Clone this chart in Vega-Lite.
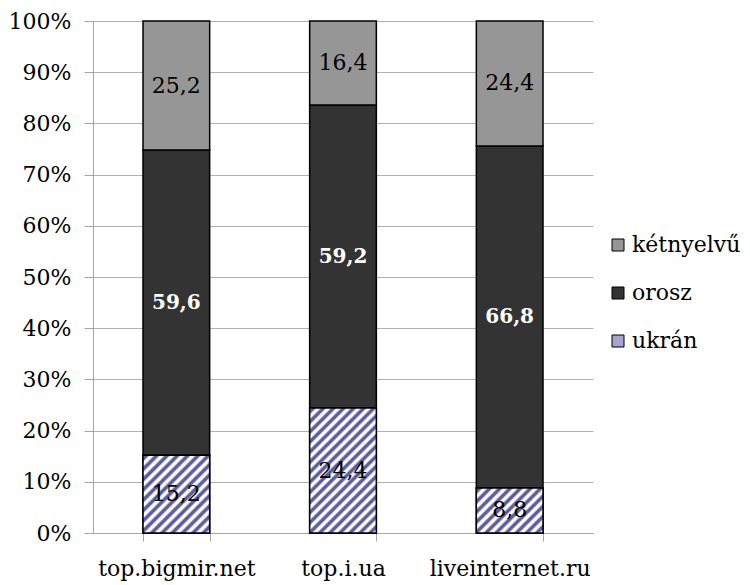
{
  "$schema": "https://vega.github.io/schema/vega-lite/v6.json",
  "width": 500,
  "height": 512,
  "autosize": {"type": "none"},
  "padding": {"left": 93, "top": 21, "right": 157, "bottom": 52},
  "background": "white",
  "config": {
    "view": {"stroke": null},
    "locale": {"number": {"decimal": ",", "thousands": " ", "grouping": [3], "currency": ["", ""]}}
  },
  "data": {
    "values": [
      {"site": "top.bigmir.net", "lang": "ukrán", "value": 15.2},
      {"site": "top.bigmir.net", "lang": "orosz", "value": 59.6},
      {"site": "top.bigmir.net", "lang": "kétnyelvű", "value": 25.2},
      {"site": "top.i.ua", "lang": "ukrán", "value": 24.4},
      {"site": "top.i.ua", "lang": "orosz", "value": 59.2},
      {"site": "top.i.ua", "lang": "kétnyelvű", "value": 16.4},
      {"site": "liveinternet.ru", "lang": "ukrán", "value": 8.8},
      {"site": "liveinternet.ru", "lang": "orosz", "value": 66.8},
      {"site": "liveinternet.ru", "lang": "kétnyelvű", "value": 24.4}
    ]
  },
  "encoding": {
    "x": {
      "field": "site",
      "type": "nominal",
      "sort": ["top.bigmir.net", "top.i.ua", "liveinternet.ru"],
      "scale": {"paddingInner": 0.6, "paddingOuter": 0.3},
      "axis": {
        "title": null,
        "labelAngle": 0,
        "labelFont": "DejaVu Serif, serif",
        "labelFontSize": 22,
        "labelColor": "black",
        "labelPadding": 17,
        "tickBand": "extent",
        "tickSize": 8,
        "tickColor": "#a6a6a6",
        "domainColor": "#a6a6a6"
      }
    }
  },
  "layer": [
    {
      "mark": {"type": "bar", "stroke": "black", "strokeWidth": 1.5},
      "encoding": {
        "y": {
          "field": "value",
          "type": "quantitative",
          "stack": "zero",
          "scale": {"domain": [0, 100], "nice": false},
          "axis": {
            "title": null,
            "values": [0, 10, 20, 30, 40, 50, 60, 70, 80, 90, 100],
            "labelExpr": "datum.value + '%'",
            "labelFont": "DejaVu Serif, serif",
            "labelFontSize": 22,
            "labelColor": "black",
            "labelPadding": 13,
            "tickSize": 9,
            "tickColor": "#a6a6a6",
            "domainColor": "#a6a6a6",
            "gridColor": "#b0b0b0"
          }
        },
        "fill": {
          "field": "lang",
          "type": "nominal",
          "scale": {
            "domain": ["kétnyelvű", "orosz", "ukrán"],
            "range": ["#969696", "#333333", "#a4a4cc"]
          },
          "legend": {
            "title": null,
            "orient": "none",
            "legendX": 514,
            "legendY": 213,
            "padding": 0,
            "symbolType": "square",
            "symbolSize": 144,
            "symbolStrokeColor": "black",
            "symbolStrokeWidth": 1,
            "labelFont": "DejaVu Serif, serif",
            "labelFontSize": 22,
            "labelColor": "black",
            "labelOffset": 3,
            "rowPadding": 26
          }
        },
        "order": {"field": "lang", "sort": "descending"}
      }
    },
    {
      "transform": [{"filter": "datum.site === 'top.bigmir.net' && datum.lang === 'ukrán'"}],
      "mark": {
        "type": "bar", "stroke": "black", "strokeWidth": 1.5,
        "fill": {
          "gradient": "linear", "x1": 0, "y1": 0, "x2": 0.9173, "y2": 1.0708,
          "stops": [
            {"offset": 0, "color": "#ffffff"}, {"offset": 0.0179, "color": "#5c5c9c"}, {"offset": 0.0357, "color": "#5c5c9c"}, {"offset": 0.0536, "color": "#ffffff"},
            {"offset": 0.0714, "color": "#ffffff"}, {"offset": 0.0893, "color": "#5c5c9c"}, {"offset": 0.1071, "color": "#5c5c9c"}, {"offset": 0.125, "color": "#ffffff"},
            {"offset": 0.1429, "color": "#ffffff"}, {"offset": 0.1607, "color": "#5c5c9c"}, {"offset": 0.1786, "color": "#5c5c9c"}, {"offset": 0.1964, "color": "#ffffff"},
            {"offset": 0.2143, "color": "#ffffff"}, {"offset": 0.2321, "color": "#5c5c9c"}, {"offset": 0.25, "color": "#5c5c9c"}, {"offset": 0.2679, "color": "#ffffff"},
            {"offset": 0.2857, "color": "#ffffff"}, {"offset": 0.3036, "color": "#5c5c9c"}, {"offset": 0.3214, "color": "#5c5c9c"}, {"offset": 0.3393, "color": "#ffffff"},
            {"offset": 0.3571, "color": "#ffffff"}, {"offset": 0.375, "color": "#5c5c9c"}, {"offset": 0.3929, "color": "#5c5c9c"}, {"offset": 0.4107, "color": "#ffffff"},
            {"offset": 0.4286, "color": "#ffffff"}, {"offset": 0.4464, "color": "#5c5c9c"}, {"offset": 0.4643, "color": "#5c5c9c"}, {"offset": 0.4821, "color": "#ffffff"},
            {"offset": 0.5, "color": "#ffffff"}, {"offset": 0.5179, "color": "#5c5c9c"}, {"offset": 0.5357, "color": "#5c5c9c"}, {"offset": 0.5536, "color": "#ffffff"},
            {"offset": 0.5714, "color": "#ffffff"}, {"offset": 0.5893, "color": "#5c5c9c"}, {"offset": 0.6071, "color": "#5c5c9c"}, {"offset": 0.625, "color": "#ffffff"},
            {"offset": 0.6429, "color": "#ffffff"}, {"offset": 0.6607, "color": "#5c5c9c"}, {"offset": 0.6786, "color": "#5c5c9c"}, {"offset": 0.6964, "color": "#ffffff"},
            {"offset": 0.7143, "color": "#ffffff"}, {"offset": 0.7321, "color": "#5c5c9c"}, {"offset": 0.75, "color": "#5c5c9c"}, {"offset": 0.7679, "color": "#ffffff"},
            {"offset": 0.7857, "color": "#ffffff"}, {"offset": 0.8036, "color": "#5c5c9c"}, {"offset": 0.8214, "color": "#5c5c9c"}, {"offset": 0.8393, "color": "#ffffff"},
            {"offset": 0.8571, "color": "#ffffff"}, {"offset": 0.875, "color": "#5c5c9c"}, {"offset": 0.8929, "color": "#5c5c9c"}, {"offset": 0.9107, "color": "#ffffff"},
            {"offset": 0.9286, "color": "#ffffff"}, {"offset": 0.9464, "color": "#5c5c9c"}, {"offset": 0.9643, "color": "#5c5c9c"}, {"offset": 0.9821, "color": "#ffffff"},
            {"offset": 1, "color": "#ffffff"}
          ]
        }
      },
      "encoding": {"y": {"field": "value", "type": "quantitative"}}
    },
    {
      "transform": [{"filter": "datum.site === 'top.i.ua' && datum.lang === 'ukrán'"}],
      "mark": {
        "type": "bar", "stroke": "black", "strokeWidth": 1.5,
        "fill": {
          "gradient": "linear", "x1": 0, "y1": 0, "x2": 0.637, "y2": 1.1937,
          "stops": [
            {"offset": 0, "color": "#ffffff"}, {"offset": 0.0132, "color": "#5c5c9c"}, {"offset": 0.0263, "color": "#5c5c9c"}, {"offset": 0.0395, "color": "#ffffff"},
            {"offset": 0.0526, "color": "#ffffff"}, {"offset": 0.0658, "color": "#5c5c9c"}, {"offset": 0.0789, "color": "#5c5c9c"}, {"offset": 0.0921, "color": "#ffffff"},
            {"offset": 0.1053, "color": "#ffffff"}, {"offset": 0.1184, "color": "#5c5c9c"}, {"offset": 0.1316, "color": "#5c5c9c"}, {"offset": 0.1447, "color": "#ffffff"},
            {"offset": 0.1579, "color": "#ffffff"}, {"offset": 0.1711, "color": "#5c5c9c"}, {"offset": 0.1842, "color": "#5c5c9c"}, {"offset": 0.1974, "color": "#ffffff"},
            {"offset": 0.2105, "color": "#ffffff"}, {"offset": 0.2237, "color": "#5c5c9c"}, {"offset": 0.2368, "color": "#5c5c9c"}, {"offset": 0.25, "color": "#ffffff"},
            {"offset": 0.2632, "color": "#ffffff"}, {"offset": 0.2763, "color": "#5c5c9c"}, {"offset": 0.2895, "color": "#5c5c9c"}, {"offset": 0.3026, "color": "#ffffff"},
            {"offset": 0.3158, "color": "#ffffff"}, {"offset": 0.3289, "color": "#5c5c9c"}, {"offset": 0.3421, "color": "#5c5c9c"}, {"offset": 0.3553, "color": "#ffffff"},
            {"offset": 0.3684, "color": "#ffffff"}, {"offset": 0.3816, "color": "#5c5c9c"}, {"offset": 0.3947, "color": "#5c5c9c"}, {"offset": 0.4079, "color": "#ffffff"},
            {"offset": 0.4211, "color": "#ffffff"}, {"offset": 0.4342, "color": "#5c5c9c"}, {"offset": 0.4474, "color": "#5c5c9c"}, {"offset": 0.4605, "color": "#ffffff"},
            {"offset": 0.4737, "color": "#ffffff"}, {"offset": 0.4868, "color": "#5c5c9c"}, {"offset": 0.5, "color": "#5c5c9c"}, {"offset": 0.5132, "color": "#ffffff"},
            {"offset": 0.5263, "color": "#ffffff"}, {"offset": 0.5395, "color": "#5c5c9c"}, {"offset": 0.5526, "color": "#5c5c9c"}, {"offset": 0.5658, "color": "#ffffff"},
            {"offset": 0.5789, "color": "#ffffff"}, {"offset": 0.5921, "color": "#5c5c9c"}, {"offset": 0.6053, "color": "#5c5c9c"}, {"offset": 0.6184, "color": "#ffffff"},
            {"offset": 0.6316, "color": "#ffffff"}, {"offset": 0.6447, "color": "#5c5c9c"}, {"offset": 0.6579, "color": "#5c5c9c"}, {"offset": 0.6711, "color": "#ffffff"},
            {"offset": 0.6842, "color": "#ffffff"}, {"offset": 0.6974, "color": "#5c5c9c"}, {"offset": 0.7105, "color": "#5c5c9c"}, {"offset": 0.7237, "color": "#ffffff"},
            {"offset": 0.7368, "color": "#ffffff"}, {"offset": 0.75, "color": "#5c5c9c"}, {"offset": 0.7632, "color": "#5c5c9c"}, {"offset": 0.7763, "color": "#ffffff"},
            {"offset": 0.7895, "color": "#ffffff"}, {"offset": 0.8026, "color": "#5c5c9c"}, {"offset": 0.8158, "color": "#5c5c9c"}, {"offset": 0.8289, "color": "#ffffff"},
            {"offset": 0.8421, "color": "#ffffff"}, {"offset": 0.8553, "color": "#5c5c9c"}, {"offset": 0.8684, "color": "#5c5c9c"}, {"offset": 0.8816, "color": "#ffffff"},
            {"offset": 0.8947, "color": "#ffffff"}, {"offset": 0.9079, "color": "#5c5c9c"}, {"offset": 0.9211, "color": "#5c5c9c"}, {"offset": 0.9342, "color": "#ffffff"},
            {"offset": 0.9474, "color": "#ffffff"}, {"offset": 0.9605, "color": "#5c5c9c"}, {"offset": 0.9737, "color": "#5c5c9c"}, {"offset": 0.9868, "color": "#ffffff"},
            {"offset": 1, "color": "#ffffff"}
          ]
        }
      },
      "encoding": {"y": {"field": "value", "type": "quantitative"}}
    },
    {
      "transform": [{"filter": "datum.site === 'liveinternet.ru' && datum.lang === 'ukrán'"}],
      "mark": {
        "type": "bar", "stroke": "black", "strokeWidth": 1.5,
        "fill": {
          "gradient": "linear", "x1": 0, "y1": 0, "x2": 1.1504, "y2": 0.7775,
          "stops": [
            {"offset": 0, "color": "#ffffff"}, {"offset": 0.0227, "color": "#5c5c9c"}, {"offset": 0.0455, "color": "#5c5c9c"}, {"offset": 0.0682, "color": "#ffffff"},
            {"offset": 0.0909, "color": "#ffffff"}, {"offset": 0.1136, "color": "#5c5c9c"}, {"offset": 0.1364, "color": "#5c5c9c"}, {"offset": 0.1591, "color": "#ffffff"},
            {"offset": 0.1818, "color": "#ffffff"}, {"offset": 0.2045, "color": "#5c5c9c"}, {"offset": 0.2273, "color": "#5c5c9c"}, {"offset": 0.25, "color": "#ffffff"},
            {"offset": 0.2727, "color": "#ffffff"}, {"offset": 0.2955, "color": "#5c5c9c"}, {"offset": 0.3182, "color": "#5c5c9c"}, {"offset": 0.3409, "color": "#ffffff"},
            {"offset": 0.3636, "color": "#ffffff"}, {"offset": 0.3864, "color": "#5c5c9c"}, {"offset": 0.4091, "color": "#5c5c9c"}, {"offset": 0.4318, "color": "#ffffff"},
            {"offset": 0.4545, "color": "#ffffff"}, {"offset": 0.4773, "color": "#5c5c9c"}, {"offset": 0.5, "color": "#5c5c9c"}, {"offset": 0.5227, "color": "#ffffff"},
            {"offset": 0.5455, "color": "#ffffff"}, {"offset": 0.5682, "color": "#5c5c9c"}, {"offset": 0.5909, "color": "#5c5c9c"}, {"offset": 0.6136, "color": "#ffffff"},
            {"offset": 0.6364, "color": "#ffffff"}, {"offset": 0.6591, "color": "#5c5c9c"}, {"offset": 0.6818, "color": "#5c5c9c"}, {"offset": 0.7045, "color": "#ffffff"},
            {"offset": 0.7273, "color": "#ffffff"}, {"offset": 0.75, "color": "#5c5c9c"}, {"offset": 0.7727, "color": "#5c5c9c"}, {"offset": 0.7955, "color": "#ffffff"},
            {"offset": 0.8182, "color": "#ffffff"}, {"offset": 0.8409, "color": "#5c5c9c"}, {"offset": 0.8636, "color": "#5c5c9c"}, {"offset": 0.8864, "color": "#ffffff"},
            {"offset": 0.9091, "color": "#ffffff"}, {"offset": 0.9318, "color": "#5c5c9c"}, {"offset": 0.9545, "color": "#5c5c9c"}, {"offset": 0.9773, "color": "#ffffff"},
            {"offset": 1, "color": "#ffffff"}
          ]
        }
      },
      "encoding": {"y": {"field": "value", "type": "quantitative"}}
    },
    {
      "transform": [
        {"stack": "value", "groupby": ["site"], "sort": [{"field": "lang", "order": "descending"}], "as": ["v0", "v1"]},
        {"calculate": "(datum.v0 + datum.v1) / 2", "as": "mid"},
        {"filter": "datum.lang !== 'orosz'"}
      ],
      "mark": {"type": "text", "font": "DejaVu Serif", "fontSize": 22, "color": "black", "baseline": "middle"},
      "encoding": {
        "y": {"field": "mid", "type": "quantitative"},
        "text": {"field": "value", "type": "quantitative", "format": ".1f"}
      }
    },
    {
      "transform": [
        {"stack": "value", "groupby": ["site"], "sort": [{"field": "lang", "order": "descending"}], "as": ["v0", "v1"]},
        {"calculate": "(datum.v0 + datum.v1) / 2", "as": "mid"},
        {"filter": "datum.lang === 'orosz'"}
      ],
      "mark": {"type": "text", "font": "DejaVu Serif", "fontSize": 20, "fontWeight": "bold", "color": "white", "baseline": "middle"},
      "encoding": {
        "y": {"field": "mid", "type": "quantitative"},
        "text": {"field": "value", "type": "quantitative", "format": ".1f"}
      }
    }
  ]
}
